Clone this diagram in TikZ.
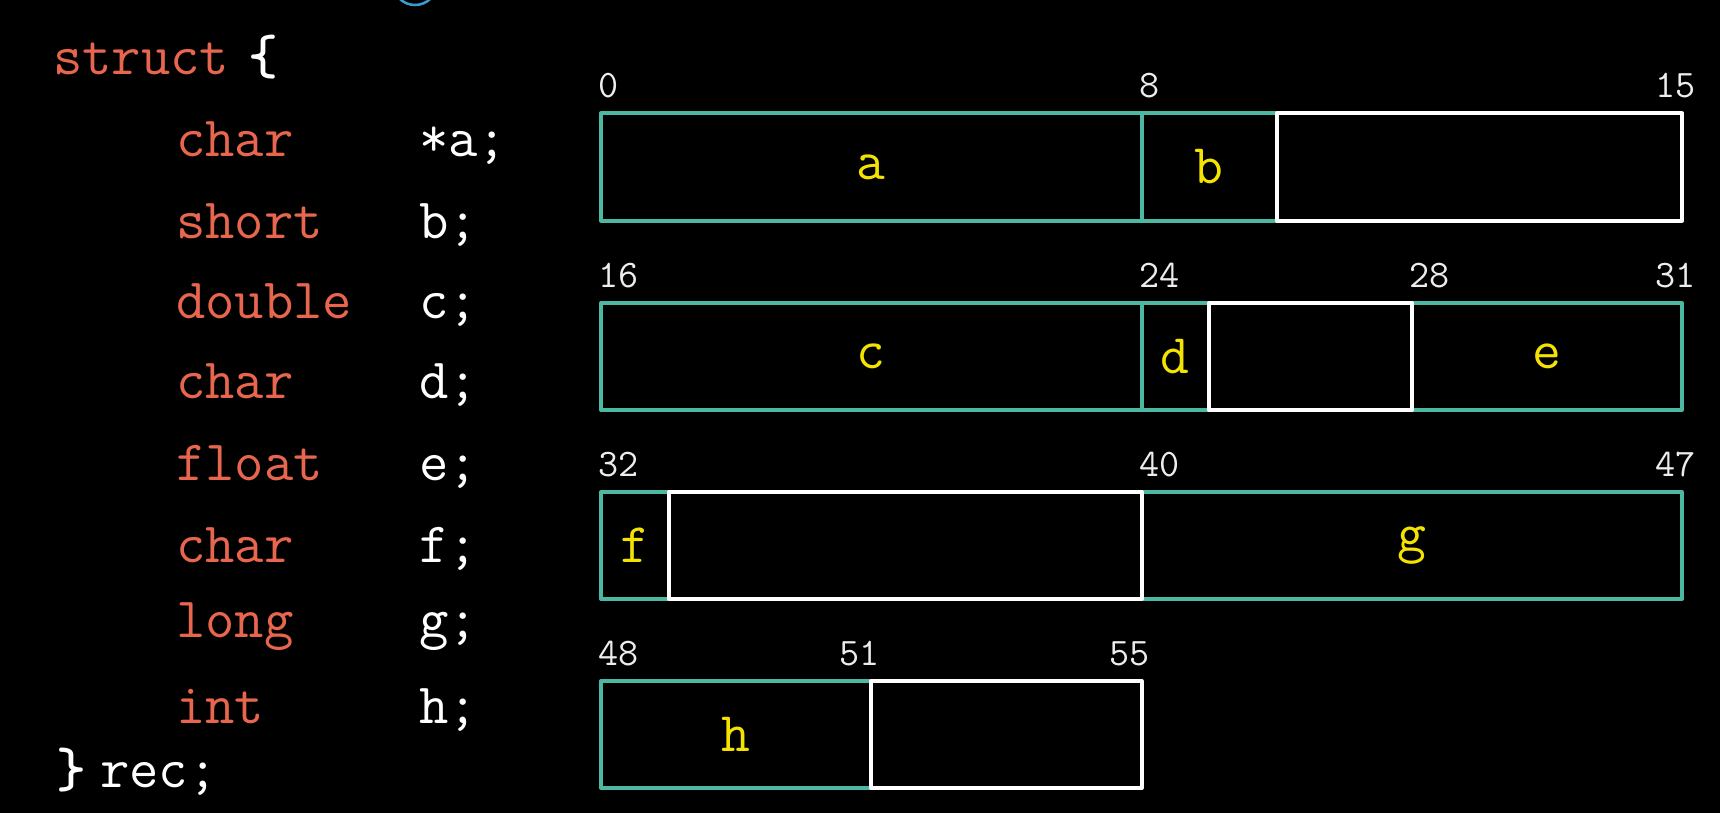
\documentclass[tikz,border=0pt]{standalone}
\definecolor{fieldteal}{HTML}{4DB8A2}
\definecolor{kwcoral}{HTML}{E8664E}
\definecolor{fieldyellow}{HTML}{F4E300}
\definecolor{arcblue}{HTML}{3B9BD1}
\definecolor{numgray}{HTML}{EDEDED}
\tikzset{
  field/.style={draw=fieldteal, line width=4pt, line join=round, inner sep=0pt, outer sep=0pt,
    minimum height=107pt, text=fieldyellow, font=\fontsize{56}{56}\selectfont\ttfamily},
  padbox/.style={draw=white, line width=4pt, line join=round, inner sep=0pt, outer sep=0pt,
    minimum height=107pt},
  num/.style={inner sep=0pt, text=numgray, font=\fontsize{39}{39}\selectfont\ttfamily},
  kw/.style={inner sep=0pt, anchor=base west, text=kwcoral, font=\fontsize{57}{57}\selectfont\ttfamily},
  var/.style={inner sep=0pt, anchor=base west, text=white, font=\fontsize{57}{57}\selectfont\ttfamily},
  brace/.style={inner sep=0pt, anchor=base west, text=white, font=\fontsize{57}{57}\selectfont\ttfamily\bfseries},
}
\begin{document}
\begin{tikzpicture}[x=1pt, y=-1pt]
\fill[black] (0,0) rectangle (1720,813);
\clip (0,0) rectangle (1720,813);
\useasboundingbox (0,0) rectangle (1720,813);

% partial blue circle at the top edge
\draw[arcblue, line width=2.5pt] (415,-17) circle[radius=22];

% ---- code listing ----
\node[kw] (kstruct) at (53,75) {struct};
\node[brace] (lbrace) at (248,75) {\{};
\node[kw] (k1) at (176,157) {char};   \node[var] (v1) at (419,157) {*a;};
\node[kw] (k2) at (176,238) {short};  \node[var] (v2) at (419,238) {b;};
\node[kw] (k3) at (176,318) {double}; \node[var] (v3) at (419,318) {c;};
\node[kw] (k4) at (176,398) {char};   \node[var] (v4) at (419,398) {d;};
\node[kw] (k5) at (176,480) {float};  \node[var] (v5) at (419,480) {e;};
\node[kw] (k6) at (176,562) {char};   \node[var] (v6) at (419,562) {f;};
\node[kw] (k7) at (176,637) {long};   \node[var] (v7) at (419,637) {g;};
\node[kw] (k8) at (176,723) {int};    \node[var] (v8) at (419,723) {h;};
\node[brace] (rbrace) at (56,787) {\}};
\node[var] (vrec) at (100,787) {rec;};

% ---- memory layout: fields ----
% row 1 (bytes 0-15)
\node[field, minimum width=540.5pt] (fa) at (871.25,167) {a};
\node[field, minimum width=135.1pt] (fb) at (1209.1,167) {b};
\node[padbox, minimum width=405.4pt] (p1) at (1479.3,167) {};
% row 2 (bytes 16-31)
\node[field, minimum width=540.5pt] (fc) at (871.25,356.5) {c};
\node[field, minimum width=67.6pt] (fd) at (1175.3,356.5) {d};
\node[field, minimum width=270.2pt] (fe) at (1546.9,356.5) {e};
\node[padbox, minimum width=202.7pt] (p2) at (1310.45,356.5) {};
% row 3 (bytes 32-47)
\node[field, minimum width=67.6pt] (ff) at (634.8,545.5) {f};
\node[field, minimum width=540.5pt] (fg) at (1411.75,545.5) {g};
\node[padbox, minimum width=472.9pt] (p3) at (905.05,545.5) {};
% row 4 (bytes 48-55)
\node[field, minimum width=270.25pt] (fh) at (736.1,734.5) {h};
\node[padbox, minimum width=270.25pt] (p4) at (1006.4,734.5) {};

% ---- offsets ----
\node[num, anchor=base west] (n0)  at (598,98) {0};
\node[num, anchor=base west] (n8)  at (1139,98) {8};
\node[num, anchor=base east] (n15) at (1696,98) {15};
\node[num, anchor=base west] (n16) at (598,287) {16};
\node[num, anchor=base west] (n24) at (1139,287) {24};
\node[num, anchor=base west] (n28) at (1409,287) {28};
\node[num, anchor=base east] (n31) at (1696,287) {31};
\node[num, anchor=base west] (n32) at (598,476) {32};
\node[num, anchor=base west] (n40) at (1139,476) {40};
\node[num, anchor=base east] (n47) at (1696,476) {47};
\node[num, anchor=base west] (n48) at (598,665) {48};
\node[num, anchor=base east] (n51) at (880,665) {51};
\node[num, anchor=base east] (n55) at (1150,665) {55};
\end{tikzpicture}
\end{document}
